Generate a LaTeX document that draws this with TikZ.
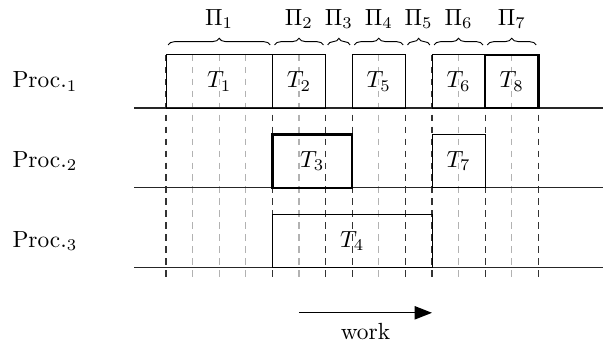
\documentclass[tikz,border=0pt]{standalone}
\usepackage{amsmath}
\usepackage{tikz}
\usetikzlibrary{arrows.meta, decorations.pathreplacing}

\begin{document}
\begin{tikzpicture}[x=0.4cm, y=0.4cm,
  slot/.style={black!80, line width=0.5pt, dash pattern=on 1mm off 0.8mm},
  subslot/.style={black!30, line width=0.5pt, dash pattern=on 1mm off 0.8mm},
  lane/.style={black!85, line width=0.6pt},
  task/.style={draw, line width=0.4pt},
  crit/.style={draw, line width=1.1pt},
  phase/.style={decorate, decoration={brace, amplitude=1mm}, line width=0.4pt}]
  \useasboundingbox (-6.24,-8.91) rectangle (16.43,4.06);

  % Light grid lines
  \foreach \x in {1,2,3,5,8,11,13}
    \draw[subslot] (\x,2) -- (\x,-6.5);

  % Phase boundaries
  \foreach \x in {0,4,6,7,9,10,12,14}
    \draw[slot] (\x,2) -- (\x,-6.5);

  % Processor lanes
  \foreach \i/\y in {1/0, 2/-3, 3/-6} {
    \draw[lane] (-1.2,\y) -- (16.43,\y);
    \node[anchor=west] (proc\i) at (-6.08,\y+1) {Proc.$_\i$};
  }

  % Tasks on Proc_1
  \draw[task] (0,0) rectangle (4,2);
  \node (t1) at (2,1) {$T_1$};
  \draw[task] (4,0) rectangle (6,2);
  \node (t2) at (5,1) {$T_2$};
  \draw[task] (7,0) rectangle (9,2);
  \node (t5) at (8,1) {$T_5$};
  \draw[task] (10,0) rectangle (12,2);
  \node (t6) at (11,1) {$T_6$};
  \draw[crit] (12,0) rectangle (14,2);
  \node (t8) at (13,1) {$T_8$};

  % Tasks on Proc_2
  \draw[crit] (4,-3) rectangle (7,-1);
  \node (t3) at (5.5,-2) {$T_3$};
  \draw[task] (10,-3) rectangle (12,-1);
  \node (t7) at (11,-2) {$T_7$};

  % Task on Proc_3
  \draw[task] (4,-6) rectangle (10,-4);
  \node (t4) at (7,-5) {$T_4$};

  % Phases
  \foreach \n/\a/\b in {1/0/4, 2/4/6, 3/6/7, 4/7/9, 5/9/10, 6/10/12, 7/12/14} {
    \draw[phase] (\a+0.08,2.37) -- (\b-0.08,2.37);
    \node (p\n) at ({(\a+\b)/2},3.35) {$\Pi_\n$};
  }

  % Work direction
  \coordinate (ws) at (5,-7.7);
  \coordinate (we) at (10,-7.7);
  \draw[-{Triangle[length=2.6mm, width=2mm]}, line width=0.5pt] (ws) -- (we);
  \node (work) at (7.5,-8.42) {work};
\end{tikzpicture}
\end{document}
